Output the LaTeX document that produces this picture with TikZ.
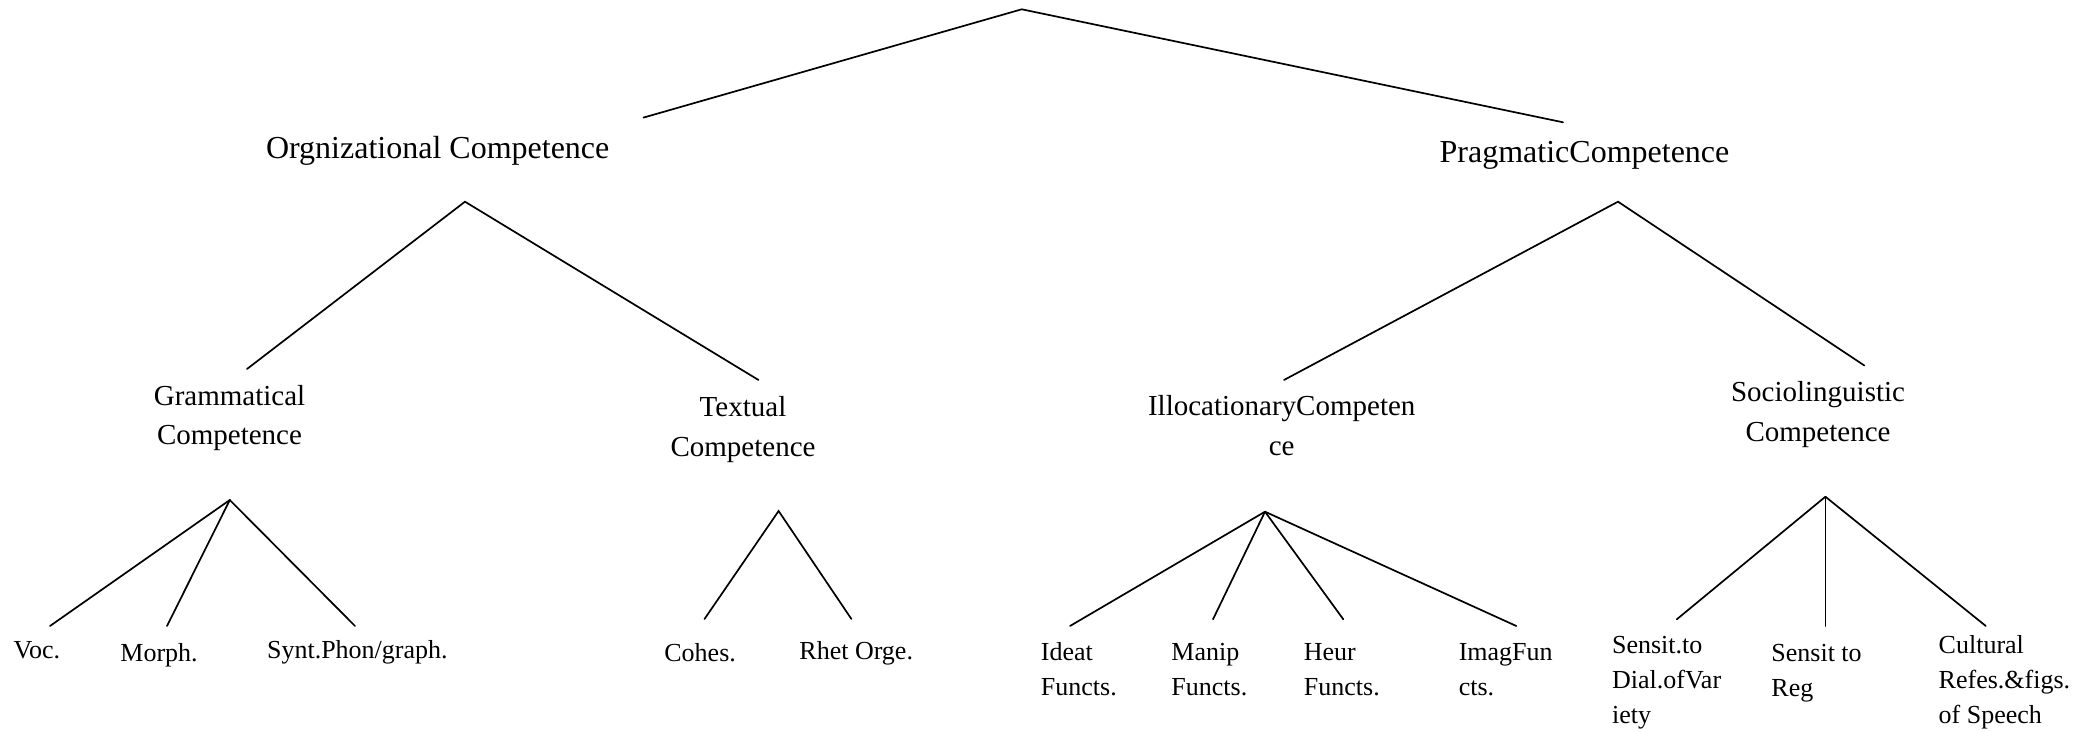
\documentclass[tikz,border=0pt]{standalone}
\usepackage{fontspec}
\setmainfont{Liberation Serif}
\tikzset{
  edge/.style={line width=0.85pt, line cap=round},
  toplbl/.style={inner sep=0pt, anchor=base, font=\fontsize{16}{19}\selectfont},
  midlbl/.style={inner sep=0pt, anchor=base, align=center, font=\fontsize{14.5}{20}\selectfont},
  leaflbl/.style={inner sep=0pt, anchor=base west, align=left, font=\fontsize{13}{17.5}\selectfont},
}
\begin{document}
\begin{tikzpicture}[x=0.5pt,y=-0.5pt]
\useasboundingbox (0,0) rectangle (2094,732);
% labels (multi-line nodes are placed by the baseline of their last line)
\node[toplbl] (org) at (437.7,158.3) {Orgnizational Competence};
\node[toplbl] (prag) at (1584.5,162.7) {PragmaticCompetence};
\node[midlbl] (gram) at (229.5,445) {Grammatical\\Competence};
\node[midlbl] (text) at (743,456.5) {Textual\\Competence};
\node[midlbl] (illoc) at (1281.7,456) {IllocationaryCompeten\\ce};
\node[midlbl] (socio) at (1818,441.5) {Sociolinguistic\\Competence};
\node[leaflbl] (voc) at (13.3,658.3) {Voc.};
\node[leaflbl] (morph) at (120,661.7) {Morph.};
\node[leaflbl] (synt) at (266.7,658.3) {Synt.Phon/graph.};
\node[leaflbl] (cohes) at (664,661.7) {Cohes.};
\node[leaflbl] (rhet) at (799,659) {Rhet Orge.};
\node[leaflbl] (ideat) at (1040.5,695) {Ideat\\Functs.};
\node[leaflbl] (manip) at (1171,695) {Manip\\Functs.};
\node[leaflbl] (heur) at (1303.5,695) {Heur\\Functs.};
\node[leaflbl] (imag) at (1458.4,695) {ImagFun\\cts.};
\node[leaflbl] (dial) at (1611.7,723) {Sensit.to\\Dial.ofVar\\iety};
\node[leaflbl] (reg) at (1771,696) {Sensit to\\Reg};
\node[leaflbl] (cult) at (1938.3,723) {Cultural\\Refes.\&figs.\\of Speech};
% connector points
\coordinate (top) at (1021.7,9.3);
\coordinate (orgT) at (643.5,117.6);
\coordinate (pragT) at (1563,122.3);
\coordinate (orgA) at (465,201.7);
\coordinate (gramT) at (247,369);
\coordinate (textT) at (758.5,380);
\coordinate (pragA) at (1618,201.7);
\coordinate (illocT) at (1284,380);
\coordinate (socioT) at (1864.3,365.5);
\coordinate (gramA) at (229.8,500);
\coordinate (vocT) at (50,626);
\coordinate (morphT) at (167,626);
\coordinate (syntT) at (355,626);
\coordinate (textA) at (778.6,511);
\coordinate (cohesT) at (704.5,619);
\coordinate (rhetT) at (851.4,619);
\coordinate (illocA) at (1265,511.7);
\coordinate (ideatT) at (1070,626);
\coordinate (manipT) at (1213,619.3);
\coordinate (heurT) at (1343.3,619.3);
\coordinate (imagT) at (1516.3,626);
\coordinate (socioA) at (1825.4,496.7);
\coordinate (dialT) at (1676.8,619.3);
\coordinate (regT) at (1825.4,626);
\coordinate (cultT) at (1985.8,626);
% connectors
\draw[edge] (orgT) -- (top) -- (pragT);
\draw[edge] (gramT) -- (orgA) -- (textT);
\draw[edge] (illocT) -- (pragA) -- (socioT);
\draw[edge] (gramA) -- (vocT);
\draw[edge] (gramA) -- (morphT);
\draw[edge] (gramA) -- (syntT);
\draw[edge] (cohesT) -- (textA) -- (rhetT);
\draw[edge] (illocA) -- (ideatT);
\draw[edge] (illocA) -- (manipT);
\draw[edge] (illocA) -- (heurT);
\draw[edge] (illocA) -- (imagT);
\draw[edge] (socioA) -- (dialT);
\draw[edge] (socioA) -- (regT);
\draw[edge] (socioA) -- (cultT);
\end{tikzpicture}
\end{document}
